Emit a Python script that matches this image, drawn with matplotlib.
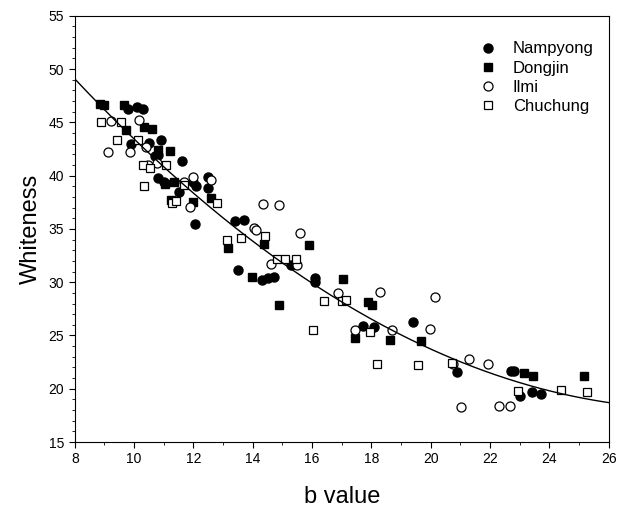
import numpy as np
import matplotlib
matplotlib.use("Agg")
import matplotlib.pyplot as plt
from matplotlib.ticker import MultipleLocator

plt.rcParams['font.family'] = ['Liberation Sans', 'DejaVu Sans']

# values
nampyong_b = [9.8, 10.1, 10.3, 9.9, 10.5, 10.9, 10.7, 10.8, 10.8, 11.0, 11.6, 11.5, 12.0,
              12.1, 12.5, 12.5, 12.05, 13.4, 13.7, 13.5, 14.3, 14.5, 14.7, 15.3, 16.1, 16.1,
              17.7, 18.1, 19.4, 20.9, 22.7, 22.8, 23.0, 23.4, 23.7]
nampyong_w = [46.3, 46.4, 46.3, 43.0, 43.1, 43.3, 41.8, 41.9, 39.8, 39.4, 41.4, 38.5, 39.4,
              39.0, 39.9, 38.8, 35.5, 35.75, 35.8, 31.1, 30.2, 30.4, 30.5, 31.6, 30.4, 30.0,
              25.9, 25.8, 26.3, 21.6, 21.7, 21.7, 19.3, 19.7, 19.5]

dongjin_b = [8.85, 9.0, 9.67, 9.73, 10.34, 10.59, 10.82, 11.21, 11.03, 11.36, 11.24, 11.97,
             12.58, 13.17, 14.39, 13.99, 14.87, 15.88, 17.05, 17.89, 18.03, 17.44, 18.63,
             19.68, 23.15, 23.46, 25.17]
dongjin_w = [46.7, 46.6, 46.6, 44.3, 44.55, 44.4, 42.4, 42.3, 39.2, 39.4, 37.7, 37.5,
             37.9, 33.2, 33.6, 30.45, 27.9, 33.45, 30.3, 28.1, 27.85, 24.8, 24.55,
             24.45, 21.5, 21.2, 21.2]

ilmi_b = [9.11, 9.22, 9.85, 10.16, 10.39, 10.46, 10.76, 11.68, 11.9, 11.98, 12.58, 14.03,
          14.10, 14.36, 14.87, 14.61, 15.59, 15.49, 16.88, 18.29, 17.46, 18.70, 19.96,
          20.13, 20.74, 21.28, 21.94, 21.03, 22.31, 22.67]
ilmi_w = [42.25, 45.1, 42.25, 45.2, 42.7, 41.0, 41.2, 39.45, 37.1, 39.9, 39.6, 35.1,
          34.9, 37.3, 37.2, 31.7, 34.6, 31.6, 29.0, 29.1, 25.55, 25.55, 25.6,
          28.6, 22.3, 22.75, 22.3, 18.3, 18.4, 18.4]

chuchung_b = [8.87, 9.56, 9.43, 10.12, 10.29, 10.53, 11.07, 10.33, 11.29, 11.41, 11.68,
              12.79, 13.13, 13.62, 14.42, 14.81, 15.10, 15.47, 16.41, 17.01, 17.14, 16.04,
              17.95, 18.20, 19.56, 20.71, 22.93, 24.38, 25.26]
chuchung_w = [45.0, 45.0, 43.3, 43.3, 41.0, 40.7, 41.0, 39.0, 37.4, 37.65, 39.1,
              37.45, 34.0, 34.15, 34.3, 32.2, 32.2, 32.2, 28.25, 28.25, 28.3, 25.5,
              25.3, 22.3, 22.2, 22.4, 19.8, 19.9, 19.7]


fig = plt.figure(figsize=(6.18, 5.11), dpi=100)
ax = fig.add_axes([0.121, 0.135, 0.864, 0.834])

ax.plot(nampyong_b, nampyong_w, 'o', color='black', ms=6.5, label='Nampyong')
ax.plot(dongjin_b, dongjin_w, 's', color='black', ms=5.8, label='Dongjin')
ax.plot(ilmi_b, ilmi_w, 'o', mfc='white', mec='black', mew=0.9, ms=6.5, label='Ilmi')
ax.plot(chuchung_b, chuchung_w, 's', mfc='white', mec='black', mew=0.9, ms=5.8, label='Chuchung')

# 2nd order regression on all points
all_b = np.array(nampyong_b + dongjin_b + ilmi_b + chuchung_b)
all_w = np.array(nampyong_w + dongjin_w + ilmi_w + chuchung_w)
coef = np.polyfit(all_b, all_w, 2)
xs = np.linspace(8, 26, 200)
ax.plot(xs, np.polyval(coef, xs), color='black', lw=1)

ax.set_xlim(8, 26)
ax.set_ylim(15, 55)
ax.xaxis.set_major_locator(MultipleLocator(2))
ax.xaxis.set_minor_locator(MultipleLocator(1))
ax.yaxis.set_major_locator(MultipleLocator(5))
ax.yaxis.set_minor_locator(MultipleLocator(1))
ax.tick_params(which='major', length=4, labelsize=10)
ax.tick_params(which='minor', length=2)
ax.set_xlabel('b value', fontsize=17, labelpad=14)
ax.set_ylabel('Whiteness', fontsize=17, labelpad=5)

ax.legend(loc='upper left', frameon=False, fontsize=12, handlelength=1.0,
          handletextpad=1.0, borderpad=0, borderaxespad=0, labelspacing=0.25,
          bbox_to_anchor=(0.758, 0.94))

fig.savefig('out.png', dpi=100)
